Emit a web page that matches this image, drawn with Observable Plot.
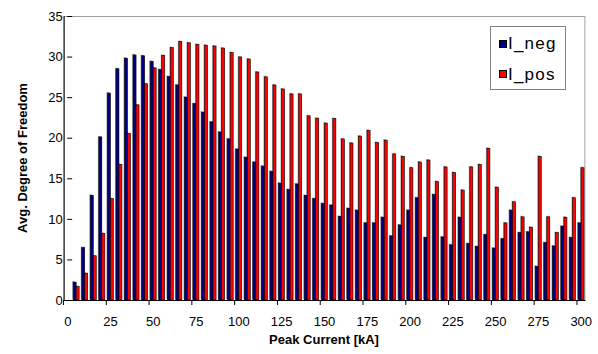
<!DOCTYPE html>
<html><head><meta charset="utf-8">
<script src="https://cdn.jsdelivr.net/npm/d3@7"></script>
<script src="https://cdn.jsdelivr.net/npm/@observablehq/plot@0.6"></script>
<style>
html,body{margin:0;padding:0;background:#fff;}
#wrap{position:relative;width:598px;height:354px;font-family:"Liberation Sans",Arial,sans-serif;color:#000;}
#wrap svg{position:absolute;left:0;top:0;}
.ytitle{position:absolute;left:22px;top:158px;transform:translate(-50%,-50%) rotate(-90deg);font-weight:bold;font-size:13px;white-space:nowrap;}
.xtitle{position:absolute;left:324px;top:333px;transform:translateX(-50%);font-weight:bold;font-size:13px;line-height:13px;white-space:nowrap;}
.legend{position:absolute;left:490px;top:26px;width:76px;height:64px;border:1px solid #808080;background:#fff;box-sizing:border-box;}
.sw{position:absolute;left:8px;width:8px;height:8px;border:1px solid #000;box-sizing:border-box;}
.lt{position:absolute;left:17px;font-size:17px;line-height:17px;letter-spacing:1.2px;white-space:nowrap;}
</style>
</head><body>
<div id="wrap"></div>
<script>
const categories = [0,5,10,15,20,25,30,35,40,45,50,55,60,65,70,75,80,85,90,95,100,105,110,115,120,125,130,135,140,145,150,155,160,165,170,175,180,185,190,195,200,205,210,215,220,225,230,235,240,245,250,255,260,265,270,275,280,285,290,295,300];
const seriesNames = ["I_neg", "I_pos"];
const seriesColors = ["#000080", "#FF0000"];
const negValues = [null,
  2.2,6.45,12.9,20.1,25.5,28.5,29.8,30.2,30.1,29.4,
  28.4,27.55,26.5,25.0,24.2,23.15,21.95,20.7,19.85,18.6,
  17.6,17.0,16.5,15.85,14.4,13.6,14.3,12.9,12.5,11.9,
  11.7,10.3,11.3,11.07,9.5,9.5,10.2,7.9,9.25,11.07,
  12.6,7.7,13.0,7.77,6.8,10.2,6.95,6.6,8.05,6.4,
  7.55,11.07,8.3,8.4,4.15,7.07,6.66,9.1,7.7,9.5];
const posValues = [null,
  1.67,3.3,5.45,8.2,12.5,16.7,20.5,24.05,26.65,28.6,
  30.15,31.1,31.85,31.7,31.5,31.4,31.3,31.05,30.5,29.95,
  29.7,28.1,27.5,26.5,26.0,25.4,25.4,22.7,22.4,21.8,
  22.36,19.85,19.35,20.2,20.9,19.4,19.7,18.0,17.7,16.3,
  17.0,17.25,14.6,16.4,15.7,13.55,16.4,16.7,18.7,13.9,
  9.5,12.1,10.25,8.97,17.7,10.25,8.3,10.2,12.6,16.3];
const xTickLabels = [0,25,50,75,100,125,150,175,200,225,250,275,300];
const yTickLabels = [0,5,10,15,20,25,30,35];

const data = [];
categories.forEach((c, i) => {
  if (negValues[i] != null) data.push({cat: c, series: seriesNames[0], value: negValues[i]});
  if (posValues[i] != null) data.push({cat: c, series: seriesNames[1], value: posValues[i]});
});

const W = 598, H = 354, ML = 63, MR = 13, MT = 16, MB = 54;
const step = (W - ML - MR) / categories.length;

const chart = Plot.plot({
  width: W, height: H,
  marginLeft: ML, marginRight: MR, marginTop: MT, marginBottom: MB,
  style: {fontFamily: "Liberation Sans, Arial, sans-serif", fontSize: "13px", color: "#000", background: "transparent"},
  fx: {domain: categories, paddingInner: 0.14, paddingOuter: 0.07, label: null},
  x: {domain: seriesNames, padding: 0, axis: null},
  y: {domain: [0, 35], label: null},
  color: {domain: seriesNames, range: seriesColors},
  marks: [
    Plot.frame({facet: "super", stroke: "#a0a0a0"}),
    Plot.barY(data, {fx: "cat", x: "series", y: "value", fill: "#a8a8a8", dx: -1, dy: -1}),
    Plot.barY(data, {fx: "cat", x: "series", y: "value", fill: "series", stroke: "#000", strokeWidth: 0.6}),
    Plot.frame({facet: "super", anchor: "left", stroke: "#000"}),
    Plot.frame({facet: "super", anchor: "bottom", stroke: "#000"}),
    Plot.axisY({ticks: yTickLabels, tickSize: 5, tickPadding: 5, label: null}),
    Plot.axisFx({anchor: "bottom", ticks: xTickLabels, tickSize: 0, tickPadding: 16, label: null}),
    Plot.axisFx({anchor: "bottom", ticks: xTickLabels, tickSize: 5, tickFormat: () => "", label: null, dx: -step / 2})
  ]
});

const wrap = document.getElementById("wrap");
wrap.appendChild(chart);

const yt = document.createElement("div"); yt.className = "ytitle"; yt.textContent = "Avg. Degree of Freedom"; wrap.appendChild(yt);
const xt = document.createElement("div"); xt.className = "xtitle"; xt.textContent = "Peak Current [kA]"; wrap.appendChild(xt);

const lg = document.createElement("div"); lg.className = "legend";
seriesNames.forEach((s, i) => {
  const sw = document.createElement("div"); sw.className = "sw";
  sw.style.top = (13 + i * 30) + "px"; sw.style.background = seriesColors[i];
  const t = document.createElement("div"); t.className = "lt";
  t.style.top = (8 + i * 31) + "px"; t.textContent = s;
  lg.appendChild(sw); lg.appendChild(t);
});
wrap.appendChild(lg);
</script>
</body></html>
